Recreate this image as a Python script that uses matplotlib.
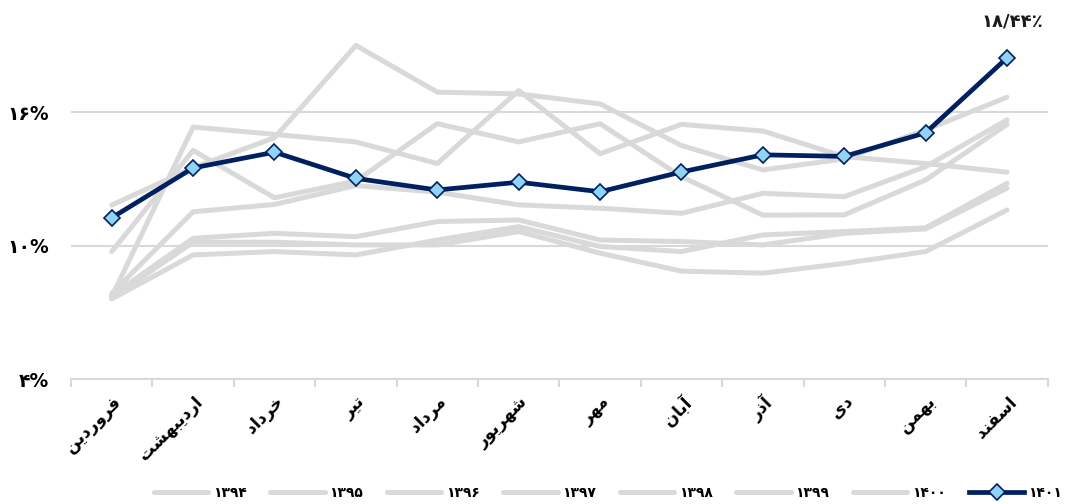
import numpy as np
import matplotlib.pyplot as plt

# ------------------------------------------------------------
# data (monthly values, %)
# ------------------------------------------------------------
months = ["فروردین", "اردیبهشت", "خرداد", "تیر", "مرداد", "شهریور",
          "مهر", "آبان", "آذر", "دی", "بهمن", "اسفند"]

years = ["۱۳۹۴", "۱۳۹۵", "۱۳۹۶", "۱۳۹۷", "۱۳۹۸", "۱۳۹۹", "۱۴۰۰", "۱۴۰۱"]

rate_1394 = [7.60, 9.58, 9.73, 9.58, 10.25, 10.85, 9.96, 9.73, 10.48, 10.63, 10.80, 12.80]
rate_1395 = [7.65, 10.15, 10.15, 10.03, 10.03, 10.63, 9.66, 8.85, 8.76, 9.20, 9.73, 11.60]
rate_1396 = [7.75, 10.33, 10.55, 10.40, 11.08, 11.15, 10.25, 10.18, 10.03, 10.55, 10.75, 12.58]
rate_1397 = [7.85, 11.52, 11.85, 12.70, 12.40, 11.83, 11.68, 11.45, 12.35, 12.20, 13.55, 15.65]
rate_1398 = [9.73, 14.28, 12.15, 12.90, 15.48, 14.66, 15.48, 13.10, 11.37, 11.38, 12.95, 15.45]
rate_1399 = [7.70, 15.33, 15.00, 14.66, 13.69, 16.97, 14.13, 15.45, 15.15, 14.00, 13.69, 13.30]
rate_1400 = [11.82, 13.50, 14.85, 19.00, 16.90, 16.82, 16.37, 14.50, 13.40, 13.90, 15.20, 16.67]
rate_1401 = [11.25, 13.49, 14.20, 13.02, 12.50, 12.85, 12.42, 13.31, 14.08, 14.01, 15.07, 18.44]

ytick_vals = [4, 10, 16]
ytick_labels = ["۴%", "۱۰%", "۱۶%"]
last_label = "۱۸/۴۴٪"


# ------------------------------------------------------------
# tiny Persian shaper: matplotlib has no bidi / joining support
# ------------------------------------------------------------
FORMS = {  # iso, fin, ini, med
    "ا": ("\uFE8D", "\uFE8E", None, None),
    "آ": ("\uFE81", "\uFE82", None, None),
    "د": ("\uFEA9", "\uFEAA", None, None),
    "ذ": ("\uFEAB", "\uFEAC", None, None),
    "ر": ("\uFEAD", "\uFEAE", None, None),
    "و": ("\uFEED", "\uFEEE", None, None),
    "ب": ("\uFE8F", "\uFE90", "\uFE91", "\uFE92"),
    "ت": ("\uFE95", "\uFE96", "\uFE97", "\uFE98"),
    "خ": ("\uFEA5", "\uFEA6", "\uFEA7", "\uFEA8"),
    "س": ("\uFEB1", "\uFEB2", "\uFEB3", "\uFEB4"),
    "ش": ("\uFEB5", "\uFEB6", "\uFEB7", "\uFEB8"),
    "ف": ("\uFED1", "\uFED2", "\uFED3", "\uFED4"),
    "م": ("\uFEE1", "\uFEE2", "\uFEE3", "\uFEE4"),
    "ن": ("\uFEE5", "\uFEE6", "\uFEE7", "\uFEE8"),
    "ه": ("\uFEE9", "\uFEEA", "\uFEEB", "\uFEEC"),
    "ی": ("\uFBFC", "\uFBFD", "\uFBFE", "\uFBFF"),
}


def shape(word):
    out = []
    for i, ch in enumerate(word):
        if ch not in FORMS:
            out.append(ch)
            continue
        iso, fin, ini, med = FORMS[ch]
        prev = word[i - 1] if i > 0 else None
        nxt = word[i + 1] if i + 1 < len(word) else None
        join_prev = prev in FORMS and FORMS[prev][2] is not None
        join_next = ini is not None and nxt in FORMS
        if join_prev and join_next:
            out.append(med)
        elif join_prev:
            out.append(fin)
        elif join_next:
            out.append(ini)
        else:
            out.append(iso)
    return "".join(out)[::-1]


# ------------------------------------------------------------
# plot
# ------------------------------------------------------------
plt.rcParams["font.family"] = ["DejaVu Sans"]

fig = plt.figure(figsize=(10.68, 5.04), dpi=100)
ax = fig.add_axes([0.0665, 0.248, 0.9145, 0.706])

x = np.arange(len(months))
grey = "#d9d9d9"
navy = "#002060"

series = [rate_1394, rate_1395, rate_1396, rate_1397,
          rate_1398, rate_1399, rate_1400]
for vals, yr in zip(series, years[:-1]):
    ax.plot(x, vals, color=grey, lw=3.6, solid_capstyle="round",
            solid_joinstyle="round", label=yr, zorder=2)

ax.plot(x, rate_1401, color=navy, lw=3.4, marker="D", markersize=8.5,
        markerfacecolor="#8fd3f5", markeredgecolor=navy, markeredgewidth=1.2,
        label=years[-1], zorder=4)

ax.annotate(last_label, (x[-1], rate_1401[-1]), xytext=(5, 36),
            textcoords="offset pixels", ha="center", va="center",
            fontsize=13, fontweight="bold", color="#1a1a1a")

ax.set_xlim(-0.5, len(months) - 0.5)
ax.set_ylim(4, 20)

ax.set_yticks(ytick_vals)
ax.set_yticklabels(ytick_labels, fontsize=13.5, fontweight="bold")
ax.yaxis.grid(True, color=grey, lw=1.5, zorder=0)
ax.tick_params(axis="y", length=0, pad=16)

ax.set_xticks(x)
ax.set_xticklabels([shape(m) for m in months], rotation=45, ha="right",
                   rotation_mode="anchor", fontsize=12, fontweight="bold")
ax.set_xticks(np.arange(-0.5, len(months)), minor=True)
ax.tick_params(axis="x", which="major", length=0, pad=10)
ax.tick_params(axis="x", which="minor", length=6, color=grey, width=1.5)

for s in ["top", "right", "left"]:
    ax.spines[s].set_visible(False)
ax.spines["bottom"].set_color(grey)
ax.spines["bottom"].set_linewidth(1.5)

ax.legend(loc="center", bbox_to_anchor=(0.55, -0.32), ncol=8,
          frameon=False, handlelength=3.9, columnspacing=1.7,
          handletextpad=0.35, prop={"weight": "bold", "size": 10})

plt.savefig("out.png", dpi=100)
